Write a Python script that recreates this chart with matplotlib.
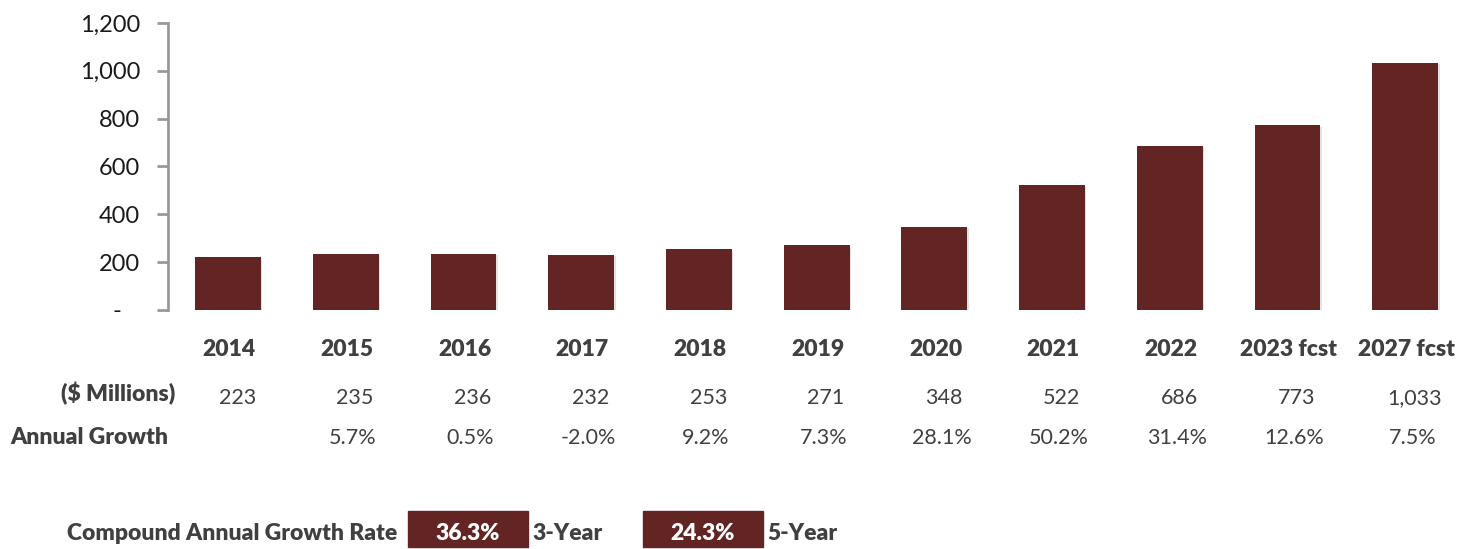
import matplotlib.pyplot as plt
import matplotlib.transforms as mtransforms
from matplotlib.ticker import FuncFormatter
from matplotlib.patches import Rectangle
import matplotlib.patheffects as pe

plt.rcParams['font.family'] = ['Lato', 'DejaVu Sans']

years = ['2014', '2015', '2016', '2017', '2018', '2019', '2020', '2021', '2022',
         '2023 fcst', '2027 fcst']
revenue = [223, 235, 236, 232, 253, 271, 348, 522, 686, 773, 1033]
growth = ['', '5.7%', '0.5%', '-2.0%', '9.2%', '7.3%', '28.1%', '50.2%', '31.4%',
          '12.6%', '7.5%']
cagr_values = ['36.3%', '24.3%']
cagr_labels = ['3-Year', '5-Year']

bar_color = '#632523'
text_color = '#404040'
W, H = 1457, 549

fig = plt.figure(figsize=(W / 100, H / 100), dpi=100)
ax = fig.add_axes([168 / W, (H - 310) / H, 1 - 168 / W, 287 / H])

x = list(range(len(years)))
ax.bar(x, revenue, width=0.56, color=bar_color,
       path_effects=[pe.SimplePatchShadow(offset=(1, -1), alpha=0.12), pe.Normal()])

ax.set_xlim(-0.51, 10.44)
ax.set_ylim(0, 1200)
ax.set_yticks(range(0, 1201, 200))
# zero shown as a dash, Excel accounting style (dash sits left of the digits)
ax.yaxis.set_major_formatter(FuncFormatter(lambda v, p: '-   ' if v == 0 else f'{int(v):,}'))
ax.tick_params(axis='y', labelsize=17, colors='#999999', labelcolor='#1a1a1a',
               length=8, width=2, pad=12)
ax.set_xticks([])
for s in ['top', 'right', 'bottom']:
    ax.spines[s].set_visible(False)
ax.spines['left'].set_color('#999999')
ax.spines['left'].set_linewidth(2)

tr = mtransforms.blended_transform_factory(ax.transData, fig.transFigure)


def fy(py):
    return 1 - py / H


for i, yr in enumerate(years):
    ax.text(i + 0.01, fy(350), yr, transform=tr, ha='center', va='center',
            fontsize=16.5, fontweight='heavy', color=text_color)
    ax.text(i + 0.08, fy(398), f'{revenue[i]:,}', transform=tr, ha='center',
            va='center', fontsize=15.5, color=text_color)
    ax.text(i + 0.06, fy(438), growth[i], transform=tr, ha='center',
            va='center', fontsize=15.5, color=text_color)

fig.text(175 / W, fy(394), '($ Millions)', ha='right', va='center',
         fontsize=16.5, fontweight='heavy', color=text_color)
fig.text(10 / W, fy(438), 'Annual Growth', ha='left', va='center',
         fontsize=16.5, fontweight='heavy', color=text_color)

fig.text(397 / W, fy(533), 'Compound Annual Growth Rate', ha='right', va='center',
         fontsize=16.5, fontweight='heavy', color=text_color)
box_left = [408, 643]
for bx, val, lab in zip(box_left, cagr_values, cagr_labels):
    fig.patches.append(Rectangle((bx / W, fy(547)), 120 / W, 36 / H,
                                 transform=fig.transFigure, color=bar_color))
    fig.text((bx + 60) / W, fy(533), val, ha='center', va='center',
             fontsize=16.5, fontweight='heavy', color='white')
    fig.text((bx + 124) / W, fy(533), lab, ha='left', va='center',
             fontsize=16.5, fontweight='heavy', color=text_color)

fig.savefig('out.png', dpi=100)
